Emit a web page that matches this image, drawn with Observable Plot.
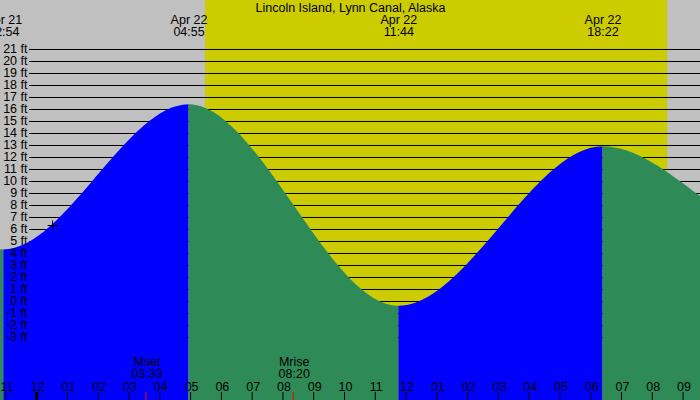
<!DOCTYPE html>
<html><head><meta charset="utf-8">
<script src="https://cdn.jsdelivr.net/npm/d3@7"></script>
<script src="https://cdn.jsdelivr.net/npm/@observablehq/plot@0.6"></script>
<style>body{margin:0;background:#fff}</style>
</head><body><div id="chart"></div>
<script>
const title = "Lincoln Island, Lynn Canal, Alaska";
const monthName = "Apr";
// tide extremes (day of April, local time, height in ft); first and last are just outside the view
const tideDays = [21, 21, 22, 22, 22, 23];
const tideTimes = ["16:35", "22:54", "04:55", "11:44", "18:22", "00:30"];
const tideFeet = [14.5, 4.3, 16.4, -0.4, 12.9, 5.0];
const tideShown = [false, true, true, true, true, false];
// sun and moon
const sunTimes = ["05:27", "20:28"];
const moonLabels = ["Mset", "Mrise"];
const moonTimes = ["03:33", "08:20"];
// axis ticks
const feetTicks = [-3, -2, -1, 0, 1, 2, 3, 4, 5, 6, 7, 8, 9, 10, 11, 12, 13, 14, 15, 16, 17, 18, 19, 20, 21];
const hourTicks = [-1, 0, 1, 2, 3, 4, 5, 6, 7, 8, 9, 10, 11, 12, 13, 14, 15, 16, 17, 18, 19, 20, 21];
const hourLabels = ["11", "12", "01", "02", "03", "04", "05", "06", "07", "08", "09", "10", "11", "12", "01", "02", "03", "04", "05", "06", "07", "08", "09"];
// current-time marker
const nowTime = "00:29";
const nowFeet = 6.33;

function hours(day, t) {
  const [hh, mm] = t.split(":").map(Number);
  return (day - 22) * 24 + hh + mm / 60;
}

const tides = tideTimes.map((t, i) => ({day: tideDays[i], time: t, h: hours(tideDays[i], t), ft: tideFeet[i], shown: tideShown[i]}));
const segs = [];
for (let i = 0; i < tides.length - 1; i++) {
  const dir = tides[i + 1].ft > tides[i].ft ? "rise" : "fall";
  segs.push({seg: i, dir, h: tides[i].h, ft: tides[i].ft});
  segs.push({seg: i, dir, h: tides[i + 1].h, ft: tides[i + 1].ft});
}
const sun = [{rise: hours(22, sunTimes[0]), set: hours(22, sunTimes[1])}];
const moon = moonLabels.map((l, i) => ({label: l, time: moonTimes[i], h: hours(22, moonTimes[i])}));

// zero-slope cubic between consecutive extremes (tide-like shape)
function curveTide(context) {
  return {
    _line: NaN, _p: 0, _x: 0, _y: 0,
    areaStart() { this._line = 0; },
    areaEnd() { this._line = NaN; },
    lineStart() { this._p = 0; },
    lineEnd() {
      if (this._line || (this._line !== 0 && this._p === 1)) context.closePath();
      this._line = 1 - this._line;
    },
    point(x, y) {
      x = +x; y = +y;
      if (this._p === 0) {
        this._line ? context.lineTo(x, y) : context.moveTo(x, y);
      } else {
        const dx = (x - this._x) / 3;
        context.bezierCurveTo(this._x + dx, this._y, x - dx, y, x, y);
      }
      this._p++; this._x = x; this._y = y;
    }
  };
}

const font = "'Liberation Sans', Arial, sans-serif";
const fs = 12.5;
const shown = tides.filter(d => d.shown);

const chart = Plot.plot({
  width: 700,
  height: 400,
  marginTop: 0, marginRight: 0, marginBottom: 0, marginLeft: 0,
  style: {fontFamily: font, fontSize: fs + "px", background: "#c0c0c0", color: "black"},
  x: {type: "linear", domain: [-1.2086, 21.534], axis: null},
  y: {domain: [-8.25, 25.0833], axis: null},
  color: {domain: ["rise", "fall"], range: ["#0000ff", "#2e8b57"]},
  marks: [
    Plot.frame({fill: "#c0c0c0", stroke: "none"}),
    Plot.rect(sun, {x1: "rise", x2: "set", fill: "#cccc00"}),
    Plot.ruleY(feetTicks, {y: d => d, insetLeft: 29, stroke: "black", strokeWidth: 1}),
    Plot.areaY(segs, {x: "h", y1: -9, y2: "ft", z: "seg", fill: "dir", curve: curveTide, clip: true}),
    Plot.text(feetTicks, {y: d => d, text: d => `${d} ft`, frameAnchor: "left", dx: 27, textAnchor: "end", lineAnchor: "middle", fontSize: fs}),
    Plot.text([title], {text: d => d, frameAnchor: "top", dy: 7.5, lineAnchor: "middle", fontSize: fs}),
    Plot.text(shown, {x: "h", text: d => `${monthName} ${d.day}`, frameAnchor: "top", dy: 19.5, lineAnchor: "middle", fontSize: fs}),
    Plot.text(shown, {x: "h", text: d => d.time, frameAnchor: "top", dy: 31.5, lineAnchor: "middle", fontSize: fs}),
    Plot.text(moon, {x: "h", text: "label", frameAnchor: "bottom", dy: -38.5, lineAnchor: "middle", fontSize: fs}),
    Plot.text(moon, {x: "h", text: "time", frameAnchor: "bottom", dy: -26.5, lineAnchor: "middle", fontSize: fs}),
    Plot.text(hourTicks, {x: d => d, text: (d, i) => hourLabels[i], frameAnchor: "bottom", dy: -14, lineAnchor: "middle", fontSize: fs}),
    Plot.ruleX(hourTicks.filter(d => d !== 0), {x: d => d, insetTop: 392, stroke: "black", strokeWidth: 1, dx: -1}),
    Plot.ruleX([0], {x: d => d, insetTop: 392, stroke: "black", strokeWidth: 3, dx: -1}),
    Plot.ruleX(moon, {x: "h", insetTop: 392, stroke: "red", strokeWidth: 1, dx: -1}),
    Plot.dot([{h: hours(22, nowTime), ft: nowFeet}], {x: "h", y: "ft", symbol: "plus", r: 3.3, stroke: "black", strokeWidth: 1})
  ]
});
document.getElementById("chart").append(chart);
</script>
</body></html>
